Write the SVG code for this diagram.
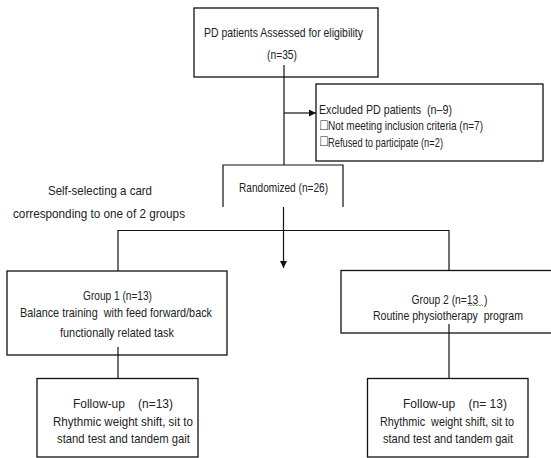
<svg xmlns="http://www.w3.org/2000/svg" width="551" height="458" viewBox="0 0 551 458">
<style>
.box{fill:#fff;stroke:#111;stroke-width:1.3}
.ln{fill:none;stroke:#111;stroke-width:1.2}
text{font-family:"Liberation Sans",Arial,sans-serif;font-size:13.5px;fill:#222;white-space:pre}
.m{text-anchor:middle}
</style>
<defs>
<marker id="ah" viewBox="0 0 10 10" refX="10" refY="5" markerWidth="7" markerHeight="7" markerUnits="userSpaceOnUse" orient="auto">
<path d="M0,0 L10,5 L0,10 Z" fill="#111"/>
</marker>
</defs>
<rect width="551" height="458" fill="#fff"/>
<g id="n-assessed">
<rect class="box" x="194" y="8" width="184" height="69"/>
<text class="m" x="283.5" y="37" textLength="159" lengthAdjust="spacingAndGlyphs">PD patients Assessed for eligibility</text>
<text class="m" x="282" y="58.5" textLength="30" lengthAdjust="spacingAndGlyphs">(n=35)</text>
</g>
<g id="n-excluded">
<rect class="box" x="316" y="84" width="227" height="77"/>
<text x="319" y="113.5" textLength="133" lengthAdjust="spacingAndGlyphs">Excluded PD patients  (n–9)</text>
<text x="319" y="129.5" font-size="8.5">&#xF0D8;</text>
<text x="328" y="130" textLength="155" lengthAdjust="spacingAndGlyphs">Not meeting inclusion criteria (n=7)</text>
<text x="319" y="146" font-size="8.5">&#xF0D8;</text>
<text x="328" y="146.5" textLength="115" lengthAdjust="spacingAndGlyphs">Refused to participate (n=2)</text>
</g>
<g id="n-randomized">
<path class="ln" d="M223,207 V165 H343 V207" stroke-width="1.3"/>
<text class="m" x="283.5" y="192" textLength="89" lengthAdjust="spacingAndGlyphs">Randomized (n=26)</text>
</g>
<g id="n-note">
<text class="m" x="100" y="195" textLength="104" lengthAdjust="spacingAndGlyphs">Self-selecting a card</text>
<text class="m" x="99" y="218" textLength="172" lengthAdjust="spacingAndGlyphs">corresponding to one of 2 groups</text>
</g>
<g id="connectors">
<line class="ln" x1="284" y1="65" x2="284" y2="165"/>
<line class="ln" x1="284" y1="113" x2="316" y2="113" marker-end="url(#ah)"/>
<line class="ln" x1="283.5" y1="207" x2="283.5" y2="268" marker-end="url(#ah)"/>
<polyline class="ln" points="118,271 118,230.5 449,230.5 449,270"/>
<line class="ln" x1="118" y1="347" x2="118" y2="378"/>
<line class="ln" x1="449" y1="324" x2="449" y2="378"/>
</g>
<g id="n-group1">
<rect class="box" x="7" y="271" width="220" height="84"/>
<text class="m" x="117.5" y="300" textLength="69" lengthAdjust="spacingAndGlyphs">Group 1 (n=13)</text>
<text class="m" x="116" y="317" textLength="192" lengthAdjust="spacingAndGlyphs">Balance training  with feed forward/back</text>
<text class="m" x="117" y="337" textLength="114" lengthAdjust="spacingAndGlyphs">functionally related task</text>
</g>
<g id="n-group2">
<rect class="box" x="341" y="270.5" width="211" height="62.5"/>
<text class="m" x="449.5" y="303.5" textLength="76" lengthAdjust="spacingAndGlyphs">Group 2 (n=13  )</text>
<path d="M468,306 l1.5,-1.5 l1.5,1.5 l1.5,-1.5 l1.5,1.5 l1.5,-1.5 l1.5,1.5 l1.5,-1.5 l1.5,1.5 l1.5,-1.5 l1.5,1.5" fill="none" stroke="#3a9a3a" stroke-width="0.8"/>
<text class="m" x="448" y="319.5" textLength="150" lengthAdjust="spacingAndGlyphs">Routine physiotherapy  program</text>
</g>
<line class="ln" x1="449" y1="324" x2="449" y2="333"/>
<line class="ln" x1="118" y1="347" x2="118" y2="355"/>
<g id="n-follow1">
<rect class="box" x="37" y="378.5" width="161" height="78.5"/>
<text class="m" x="123" y="408" textLength="100" lengthAdjust="spacingAndGlyphs">Follow-up    (n=13)</text>
<text class="m" x="123" y="426" textLength="140" lengthAdjust="spacingAndGlyphs">Rhythmic weight shift, sit to</text>
<text class="m" x="123.5" y="443" textLength="133" lengthAdjust="spacingAndGlyphs">stand test and tandem gait</text>
</g>
<g id="n-follow2">
<rect class="box" x="367.5" y="378.5" width="160.5" height="78.5"/>
<text class="m" x="455" y="408" textLength="104" lengthAdjust="spacingAndGlyphs">Follow-up    (n= 13)</text>
<text class="m" x="447" y="426" textLength="134" lengthAdjust="spacingAndGlyphs">Rhythmic  weight shift, sit to</text>
<text class="m" x="448" y="443" textLength="130" lengthAdjust="spacingAndGlyphs">stand test and tandem gait</text>
</g>
</svg>
